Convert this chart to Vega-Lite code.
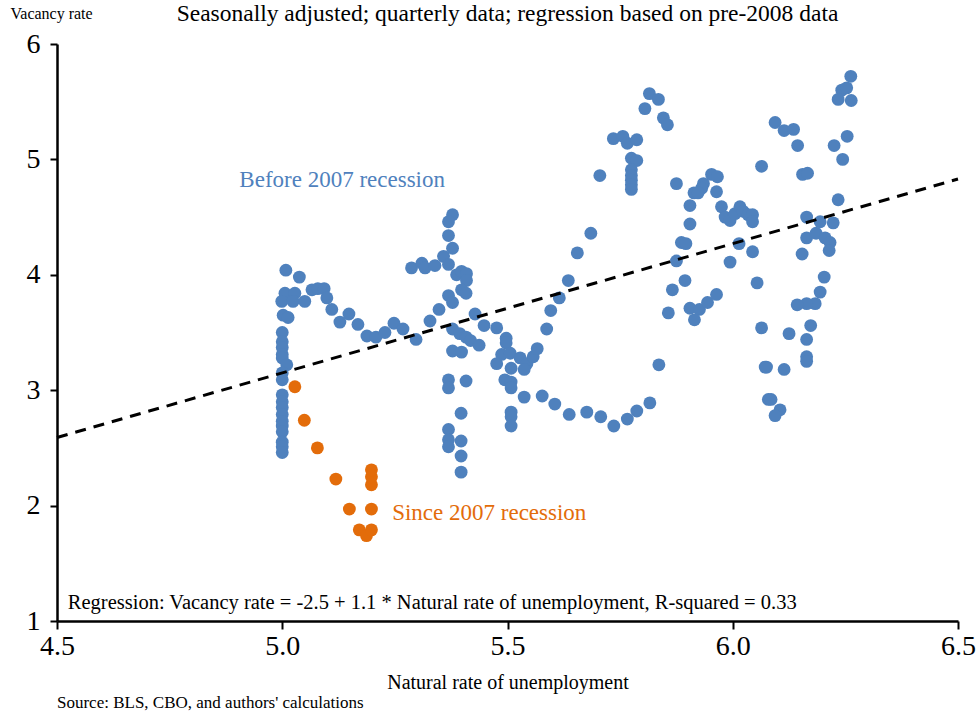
{
  "$schema": "https://vega.github.io/schema/vega-lite/v6.json",
  "width": 901,
  "height": 577,
  "autosize": "none",
  "padding": {"left": 57, "top": 44, "right": 18, "bottom": 94},
  "background": "white",
  "config": {
    "view": {"stroke": null},
    "font": "Liberation Serif",
    "text": {"font": "Liberation Serif"}
  },
  "title": {
    "text": "Seasonally adjusted; quarterly data; regression based on pre-2008 data",
    "font": "Liberation Serif",
    "fontSize": 23.5,
    "fontWeight": "normal",
    "color": "black",
    "anchor": "middle",
    "baseline": "alphabetic",
    "offset": -39
  },
  "datasets": {
    "pts": [
      {"u": 5.0, "v": 3.50, "s": "pre"}, {"u": 5.0, "v": 3.42, "s": "pre"}, {"u": 5.0, "v": 3.37, "s": "pre"},
      {"u": 5.0, "v": 3.31, "s": "pre"}, {"u": 5.0, "v": 3.28, "s": "pre"}, {"u": 5.01, "v": 3.22, "s": "pre"},
      {"u": 5.0, "v": 3.15, "s": "pre"}, {"u": 5.0, "v": 3.09, "s": "pre"}, {"u": 5.0, "v": 2.96, "s": "pre"},
      {"u": 5.0, "v": 2.90, "s": "pre"}, {"u": 5.0, "v": 2.85, "s": "pre"}, {"u": 5.0, "v": 2.79, "s": "pre"},
      {"u": 5.0, "v": 2.73, "s": "pre"}, {"u": 5.0, "v": 2.69, "s": "pre"}, {"u": 5.0, "v": 2.64, "s": "pre"},
      {"u": 5.0, "v": 2.55, "s": "pre"}, {"u": 5.0, "v": 2.51, "s": "pre"}, {"u": 5.0, "v": 2.46, "s": "pre"},
      {"u": 5.006, "v": 3.84, "s": "pre"}, {"u": 5.028, "v": 3.84, "s": "pre"}, {"u": 4.999, "v": 3.77, "s": "pre"},
      {"u": 5.024, "v": 3.77, "s": "pre"}, {"u": 5.05, "v": 3.77, "s": "pre"}, {"u": 5.066, "v": 3.87, "s": "pre"},
      {"u": 5.079, "v": 3.88, "s": "pre"}, {"u": 5.093, "v": 3.88, "s": "pre"}, {"u": 5.099, "v": 3.80, "s": "pre"},
      {"u": 5.11, "v": 3.70, "s": "pre"}, {"u": 5.128, "v": 3.59, "s": "pre"}, {"u": 5.002, "v": 3.65, "s": "pre"},
      {"u": 5.013, "v": 3.63, "s": "pre"}, {"u": 5.008, "v": 4.04, "s": "pre"}, {"u": 5.038, "v": 3.98, "s": "pre"},
      {"u": 5.148, "v": 3.66, "s": "pre"}, {"u": 5.168, "v": 3.57, "s": "pre"}, {"u": 5.188, "v": 3.47, "s": "pre"},
      {"u": 5.208, "v": 3.46, "s": "pre"}, {"u": 5.228, "v": 3.50, "s": "pre"}, {"u": 5.248, "v": 3.58, "s": "pre"},
      {"u": 5.268, "v": 3.53, "s": "pre"}, {"u": 5.297, "v": 3.44, "s": "pre"}, {"u": 5.328, "v": 3.60, "s": "pre"},
      {"u": 5.348, "v": 3.70, "s": "pre"},
      {"u": 5.287, "v": 4.06, "s": "pre"}, {"u": 5.31, "v": 4.10, "s": "pre"}, {"u": 5.317, "v": 4.06, "s": "pre"},
      {"u": 5.339, "v": 4.08, "s": "pre"}, {"u": 5.358, "v": 4.16, "s": "pre"}, {"u": 5.369, "v": 4.09, "s": "pre"},
      {"u": 5.378, "v": 4.52, "s": "pre"}, {"u": 5.369, "v": 4.46, "s": "pre"}, {"u": 5.369, "v": 4.34, "s": "pre"},
      {"u": 5.378, "v": 4.23, "s": "pre"}, {"u": 5.387, "v": 4.00, "s": "pre"}, {"u": 5.398, "v": 4.03, "s": "pre"},
      {"u": 5.409, "v": 4.01, "s": "pre"}, {"u": 5.409, "v": 3.95, "s": "pre"}, {"u": 5.398, "v": 3.87, "s": "pre"},
      {"u": 5.408, "v": 3.84, "s": "pre"}, {"u": 5.369, "v": 3.82, "s": "pre"}, {"u": 5.378, "v": 3.76, "s": "pre"},
      {"u": 5.428, "v": 3.66, "s": "pre"}, {"u": 5.448, "v": 3.56, "s": "pre"}, {"u": 5.476, "v": 3.54, "s": "pre"},
      {"u": 5.378, "v": 3.53, "s": "pre"}, {"u": 5.394, "v": 3.49, "s": "pre"}, {"u": 5.408, "v": 3.46, "s": "pre"},
      {"u": 5.418, "v": 3.43, "s": "pre"}, {"u": 5.437, "v": 3.39, "s": "pre"}, {"u": 5.378, "v": 3.34, "s": "pre"},
      {"u": 5.398, "v": 3.33, "s": "pre"}, {"u": 5.497, "v": 3.45, "s": "pre"}, {"u": 5.497, "v": 3.41, "s": "pre"},
      {"u": 5.487, "v": 3.31, "s": "pre"}, {"u": 5.506, "v": 3.32, "s": "pre"}, {"u": 5.476, "v": 3.23, "s": "pre"},
      {"u": 5.528, "v": 3.28, "s": "pre"}, {"u": 5.543, "v": 3.23, "s": "pre"}, {"u": 5.557, "v": 3.29, "s": "pre"},
      {"u": 5.566, "v": 3.36, "s": "pre"}, {"u": 5.508, "v": 3.19, "s": "pre"}, {"u": 5.537, "v": 3.18, "s": "pre"},
      {"u": 5.369, "v": 3.09, "s": "pre"}, {"u": 5.369, "v": 3.02, "s": "pre"}, {"u": 5.408, "v": 3.08, "s": "pre"},
      {"u": 5.494, "v": 3.09, "s": "pre"}, {"u": 5.508, "v": 3.07, "s": "pre"}, {"u": 5.508, "v": 3.02, "s": "pre"},
      {"u": 5.537, "v": 2.94, "s": "pre"}, {"u": 5.577, "v": 2.95, "s": "pre"}, {"u": 5.605, "v": 2.88, "s": "pre"},
      {"u": 5.397, "v": 2.80, "s": "pre"}, {"u": 5.508, "v": 2.81, "s": "pre"}, {"u": 5.508, "v": 2.77, "s": "pre"},
      {"u": 5.508, "v": 2.69, "s": "pre"}, {"u": 5.369, "v": 2.66, "s": "pre"}, {"u": 5.369, "v": 2.57, "s": "pre"},
      {"u": 5.369, "v": 2.51, "s": "pre"}, {"u": 5.397, "v": 2.56, "s": "pre"}, {"u": 5.397, "v": 2.43, "s": "pre"},
      {"u": 5.397, "v": 2.29, "s": "pre"},
      {"u": 5.587, "v": 3.53, "s": "pre"}, {"u": 5.596, "v": 3.69, "s": "pre"}, {"u": 5.615, "v": 3.80, "s": "pre"},
      {"u": 5.635, "v": 3.95, "s": "pre"}, {"u": 5.655, "v": 4.19, "s": "pre"}, {"u": 5.685, "v": 4.36, "s": "pre"},
      {"u": 5.705, "v": 4.86, "s": "pre"},
      {"u": 5.637, "v": 2.79, "s": "pre"}, {"u": 5.676, "v": 2.81, "s": "pre"}, {"u": 5.707, "v": 2.77, "s": "pre"},
      {"u": 5.736, "v": 2.69, "s": "pre"}, {"u": 5.766, "v": 2.75, "s": "pre"}, {"u": 5.787, "v": 2.82, "s": "pre"},
      {"u": 5.816, "v": 2.89, "s": "pre"}, {"u": 5.836, "v": 3.22, "s": "pre"}, {"u": 5.857, "v": 3.67, "s": "pre"},
      {"u": 5.866, "v": 3.87, "s": "pre"}, {"u": 5.875, "v": 4.12, "s": "pre"},
      {"u": 5.735, "v": 5.18, "s": "pre"}, {"u": 5.756, "v": 5.20, "s": "pre"}, {"u": 5.766, "v": 5.14, "s": "pre"},
      {"u": 5.787, "v": 5.17, "s": "pre"}, {"u": 5.775, "v": 5.01, "s": "pre"}, {"u": 5.787, "v": 4.99, "s": "pre"},
      {"u": 5.775, "v": 4.91, "s": "pre"}, {"u": 5.775, "v": 4.86, "s": "pre"}, {"u": 5.775, "v": 4.82, "s": "pre"},
      {"u": 5.775, "v": 4.78, "s": "pre"}, {"u": 5.775, "v": 4.74, "s": "pre"}, {"u": 5.805, "v": 5.44, "s": "pre"},
      {"u": 5.815, "v": 5.57, "s": "pre"}, {"u": 5.835, "v": 5.52, "s": "pre"}, {"u": 5.846, "v": 5.36, "s": "pre"},
      {"u": 5.855, "v": 5.30, "s": "pre"},
      {"u": 5.875, "v": 4.79, "s": "pre"}, {"u": 5.953, "v": 4.87, "s": "pre"}, {"u": 5.966, "v": 4.85, "s": "pre"},
      {"u": 5.935, "v": 4.79, "s": "pre"}, {"u": 5.931, "v": 4.75, "s": "pre"}, {"u": 5.914, "v": 4.71, "s": "pre"},
      {"u": 5.923, "v": 4.71, "s": "pre"}, {"u": 5.964, "v": 4.72, "s": "pre"}, {"u": 5.905, "v": 4.60, "s": "pre"},
      {"u": 5.975, "v": 4.59, "s": "pre"}, {"u": 5.983, "v": 4.50, "s": "pre"}, {"u": 5.994, "v": 4.47, "s": "pre"},
      {"u": 6.005, "v": 4.53, "s": "pre"}, {"u": 6.016, "v": 4.59, "s": "pre"}, {"u": 6.023, "v": 4.55, "s": "pre"},
      {"u": 6.034, "v": 4.52, "s": "pre"}, {"u": 6.044, "v": 4.52, "s": "pre"}, {"u": 6.044, "v": 4.46, "s": "pre"},
      {"u": 5.905, "v": 4.44, "s": "pre"}, {"u": 5.886, "v": 4.28, "s": "pre"}, {"u": 5.896, "v": 4.27, "s": "pre"},
      {"u": 6.014, "v": 4.27, "s": "pre"}, {"u": 6.044, "v": 4.20, "s": "pre"}, {"u": 5.994, "v": 4.11, "s": "pre"},
      {"u": 5.894, "v": 3.95, "s": "pre"}, {"u": 6.054, "v": 3.93, "s": "pre"},
      {"u": 5.905, "v": 3.71, "s": "pre"}, {"u": 5.926, "v": 3.70, "s": "pre"}, {"u": 5.944, "v": 3.76, "s": "pre"},
      {"u": 5.964, "v": 3.83, "s": "pre"}, {"u": 5.915, "v": 3.61, "s": "pre"}, {"u": 6.064, "v": 3.54, "s": "pre"},
      {"u": 6.064, "v": 4.94, "s": "pre"}, {"u": 6.072, "v": 3.20, "s": "pre"}, {"u": 6.079, "v": 2.92, "s": "pre"},
      {"u": 6.262, "v": 5.72, "s": "pre"}, {"u": 6.242, "v": 5.60, "s": "pre"}, {"u": 6.253, "v": 5.62, "s": "pre"},
      {"u": 6.234, "v": 5.52, "s": "pre"}, {"u": 6.263, "v": 5.51, "s": "pre"}, {"u": 6.094, "v": 5.32, "s": "pre"},
      {"u": 6.114, "v": 5.25, "s": "pre"}, {"u": 6.135, "v": 5.26, "s": "pre"}, {"u": 6.144, "v": 5.12, "s": "pre"},
      {"u": 6.225, "v": 5.12, "s": "pre"}, {"u": 6.254, "v": 5.20, "s": "pre"}, {"u": 6.244, "v": 5.00, "s": "pre"},
      {"u": 6.155, "v": 4.87, "s": "pre"}, {"u": 6.166, "v": 4.88, "s": "pre"}, {"u": 6.234, "v": 4.65, "s": "pre"},
      {"u": 6.164, "v": 4.50, "s": "pre"}, {"u": 6.194, "v": 4.46, "s": "pre"}, {"u": 6.223, "v": 4.45, "s": "pre"},
      {"u": 6.164, "v": 4.32, "s": "pre"}, {"u": 6.185, "v": 4.36, "s": "pre"}, {"u": 6.205, "v": 4.32, "s": "pre"},
      {"u": 6.216, "v": 4.28, "s": "pre"}, {"u": 6.214, "v": 4.21, "s": "pre"}, {"u": 6.154, "v": 4.18, "s": "pre"},
      {"u": 6.203, "v": 3.98, "s": "pre"}, {"u": 6.194, "v": 3.85, "s": "pre"}, {"u": 6.183, "v": 3.75, "s": "pre"},
      {"u": 6.164, "v": 3.75, "s": "pre"}, {"u": 6.143, "v": 3.74, "s": "pre"}, {"u": 6.173, "v": 3.56, "s": "pre"},
      {"u": 6.164, "v": 3.44, "s": "pre"}, {"u": 6.125, "v": 3.49, "s": "pre"}, {"u": 6.164, "v": 3.29, "s": "pre"},
      {"u": 6.164, "v": 3.25, "s": "pre"}, {"u": 6.075, "v": 3.20, "s": "pre"}, {"u": 6.114, "v": 3.18, "s": "pre"},
      {"u": 6.085, "v": 2.92, "s": "pre"}, {"u": 6.105, "v": 2.83, "s": "pre"}, {"u": 6.094, "v": 2.78, "s": "pre"},
      {"u": 5.028, "v": 3.03, "s": "post"}, {"u": 5.049, "v": 2.74, "s": "post"}, {"u": 5.078, "v": 2.50, "s": "post"},
      {"u": 5.119, "v": 2.23, "s": "post"}, {"u": 5.149, "v": 1.97, "s": "post"}, {"u": 5.171, "v": 1.79, "s": "post"},
      {"u": 5.187, "v": 1.74, "s": "post"}, {"u": 5.198, "v": 1.79, "s": "post"}, {"u": 5.198, "v": 1.97, "s": "post"},
      {"u": 5.198, "v": 2.18, "s": "post"}, {"u": 5.198, "v": 2.25, "s": "post"}, {"u": 5.198, "v": 2.31, "s": "post"}
    ],
    "fit": [
      {"u": 4.5, "v": 2.59},
      {"u": 6.5, "v": 4.83}
    ]
  },
  "encoding": {
    "x": {
      "field": "u", "type": "quantitative",
      "scale": {"domain": [4.5, 6.5], "nice": false, "zero": false},
      "axis": {
        "values": [4.5, 5.0, 5.5, 6.0, 6.5],
        "format": ".1f",
        "grid": false,
        "domainColor": "black", "domainWidth": 2.5,
        "tickColor": "black", "tickWidth": 2, "tickSize": 8,
        "labelFont": "Liberation Serif", "labelFontSize": 28, "labelColor": "black",
        "labelPadding": 3, "labelFlush": false,
        "title": "Natural rate of unemployment",
        "titleFont": "Liberation Serif", "titleFontSize": 20, "titleFontWeight": "normal",
        "titleColor": "black", "titlePadding": 12
      }
    },
    "y": {
      "field": "v", "type": "quantitative",
      "scale": {"domain": [1, 6], "nice": false, "zero": false},
      "axis": {
        "values": [1, 2, 3, 4, 5, 6],
        "grid": false,
        "domainColor": "black", "domainWidth": 2.5,
        "tickColor": "black", "tickWidth": 2, "tickSize": 7,
        "labelFont": "Liberation Serif", "labelFontSize": 28, "labelColor": "black",
        "labelPadding": 10, "labelFlush": false,
        "title": "Vacancy rate",
        "titleFont": "Liberation Serif", "titleFontSize": 16, "titleFontWeight": "normal",
        "titleColor": "black", "titleAngle": 0, "titleAlign": "left", "titleBaseline": "alphabetic",
        "titleX": -47, "titleY": -26
      }
    }
  },
  "layer": [
    {
      "data": {"name": "pts"},
      "mark": {"type": "circle", "size": 165, "opacity": 1},
      "encoding": {
        "color": {
          "field": "s", "type": "nominal",
          "scale": {"domain": ["pre", "post"], "range": ["#4F81BD", "#E36C0A"]},
          "legend": null
        }
      }
    },
    {
      "data": {"name": "fit"},
      "mark": {"type": "line", "color": "black", "strokeWidth": 3, "strokeDash": [11, 8]},
      "encoding": {}
    },
    {
      "data": {"values": [{"u": 5.133, "v": 4.82, "t": "Before 2007 recession"}]},
      "mark": {"type": "text", "font": "Liberation Serif", "fontSize": 23, "align": "center", "baseline": "middle", "color": "#4F81BD"},
      "encoding": {"text": {"field": "t"}}
    },
    {
      "data": {"values": [{"u": 5.244, "v": 1.94, "t": "Since 2007 recession"}]},
      "mark": {"type": "text", "font": "Liberation Serif", "fontSize": 23, "align": "left", "baseline": "middle", "color": "#E36C0A"},
      "encoding": {"text": {"field": "t"}}
    },
    {
      "data": {"values": [{"u": 4.524, "v": 1.156, "t": "Regression: Vacancy rate = -2.5 + 1.1 * Natural rate of unemployment, R-squared = 0.33"}]},
      "mark": {"type": "text", "font": "Liberation Serif", "fontSize": 20.5, "align": "left", "baseline": "middle", "color": "black"},
      "encoding": {"text": {"field": "t"}}
    },
    {
      "data": {"values": [{"u": 4.5, "v": 0.29, "t": "Source: BLS, CBO, and authors' calculations"}]},
      "mark": {"type": "text", "font": "Liberation Serif", "fontSize": 17, "align": "left", "baseline": "middle", "color": "black", "clip": false},
      "encoding": {"text": {"field": "t"}}
    }
  ]
}
